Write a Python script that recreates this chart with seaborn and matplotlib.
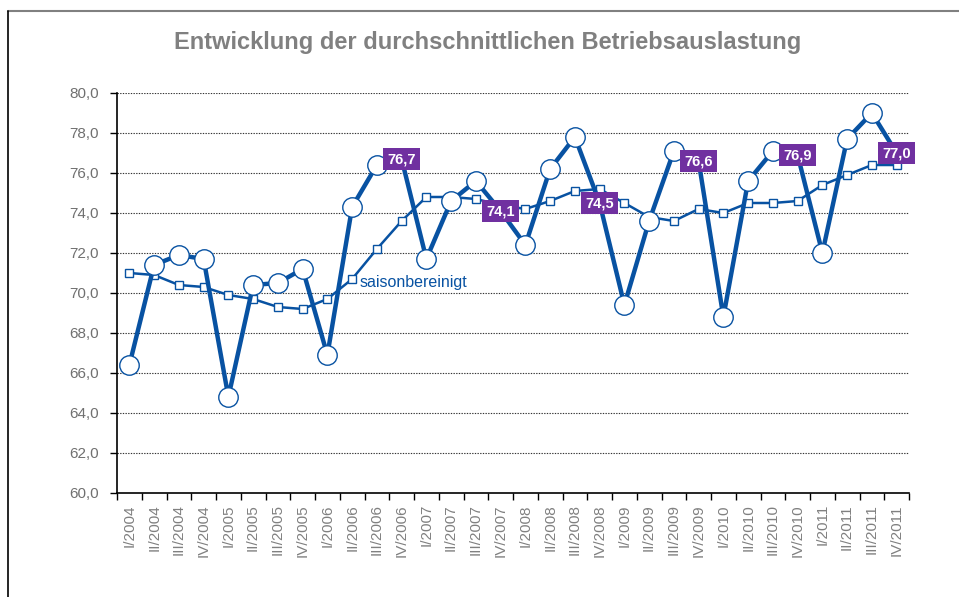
import numpy as np
import pandas as pd
import matplotlib
matplotlib.use('Agg')
import matplotlib.pyplot as plt
import seaborn as sns
from matplotlib.ticker import FuncFormatter
from matplotlib.lines import Line2D

# Daten: Quartale 2004-2011
quartale = [f'{q}/{j}' for j in range(2004, 2012) for q in ['I', 'II', 'III', 'IV']]

auslastung = [66.4, 71.4, 71.9, 71.7,
              64.8, 70.4, 70.5, 71.2,
              66.9, 74.3, 76.4, 76.7,
              71.7, 74.6, 75.6, 74.1,
              72.4, 76.2, 77.8, 74.5,
              69.4, 73.6, 77.1, 76.6,
              68.8, 75.6, 77.1, 76.9,
              72.0, 77.7, 79.0, 77.0]

saisonbereinigt = [71.0, 70.9, 70.4, 70.3,
                   69.9, 69.7, 69.3, 69.2,
                   69.7, 70.7, 72.2, 73.6,
                   74.8, 74.8, 74.7, 74.4,
                   74.2, 74.6, 75.1, 75.2,
                   74.5, 73.8, 73.6, 74.2,
                   74.0, 74.5, 74.5, 74.6,
                   75.4, 75.9, 76.4, 76.4]

# beschriftete Werte (IV. Quartal ab 2006)
beschriftet = ['IV/2006', 'IV/2007', 'IV/2008', 'IV/2009', 'IV/2010', 'IV/2011']

df = pd.DataFrame({'quartal': quartale,
                   'auslastung': auslastung,
                   'saisonbereinigt': saisonbereinigt})

blau = '#0852A2'
lila = '#7030A0'
grau = '#808080'

sns.set_style('white')
plt.rcParams['font.family'] = ['Liberation Sans', 'DejaVu Sans']

fig = plt.figure(figsize=(9.59, 5.97), dpi=100)
ax = fig.add_axes([117/959, 1 - 493/597, 792/959, 400/597])

# Rahmen um das Diagramm (oben grau, links schwarz)
fig.lines.append(Line2D([8/959, 1], [1 - 10.5/597, 1 - 10.5/597], transform=fig.transFigure,
                        color='#808080', linewidth=1.5))
fig.lines.append(Line2D([8/959, 8/959], [0, 1 - 10.5/597], transform=fig.transFigure,
                        color='black', linewidth=1.2))

# Gitterlinien
for v in np.arange(62, 81, 2):
    ax.axhline(v, color='#333333', linewidth=0.8, linestyle=(0, (1.2, 1.2)), zorder=0)

sns.lineplot(data=df, x='quartal', y='saisonbereinigt', ax=ax, color=blau, linewidth=1.8,
             marker='s', markersize=6, markerfacecolor='white', markeredgecolor=blau,
             markeredgewidth=1.0, zorder=3, sort=False)
sns.lineplot(data=df, x='quartal', y='auslastung', ax=ax, color=blau, linewidth=3.2,
             marker='o', markersize=14, markerfacecolor='white', markeredgecolor=blau,
             markeredgewidth=1.0, zorder=4, sort=False)

# Beschriftung der IV. Quartale
for i, q in enumerate(quartale):
    if q in beschriftet:
        ax.text(i, auslastung[i], f'{auslastung[i]:.1f}'.replace('.', ','),
                ha='center', va='center', color='white', fontsize=10.5, fontweight='bold',
                zorder=6, bbox=dict(boxstyle='square,pad=0.3', facecolor=lila, edgecolor='none'))

ax.text(9.3, 70.55, 'saisonbereinigt', color=blau, fontsize=11.5, va='center', ha='left', zorder=5)

ax.set_ylim(60, 80)
ax.set_xlim(-0.5, 31.5)
ax.set_yticks(np.arange(60, 81, 2))
ax.yaxis.set_major_formatter(FuncFormatter(lambda v, p: f'{v:.1f}'.replace('.', ',')))
ax.set_xticks(np.arange(-0.5, 32, 1))
ax.set_xticklabels([])
ax.set_xticks(np.arange(32), minor=True)
ax.set_xticklabels(quartale, minor=True, rotation=90)
ax.tick_params(axis='x', which='major', length=5, width=1, direction='out', color='black', bottom=True)
ax.tick_params(axis='x', which='minor', length=0, pad=8, labelsize=11, labelcolor=grau)
ax.tick_params(axis='y', length=5, width=1, direction='out', color='black', left=True,
               labelsize=11, labelcolor='#707070', pad=8)

for s in ['top', 'right']:
    ax.spines[s].set_visible(False)
for s in ['left', 'bottom']:
    ax.spines[s].set_color('black')
    ax.spines[s].set_linewidth(1.2)

ax.set_xlabel('')
ax.set_ylabel('')

fig.text(488/959, 1 - 42/597, 'Entwicklung der durchschnittlichen Betriebsauslastung',
         ha='center', va='center', fontsize=17, fontweight='bold', color=grau)

fig.savefig('out.png', dpi=100)
plt.close()
